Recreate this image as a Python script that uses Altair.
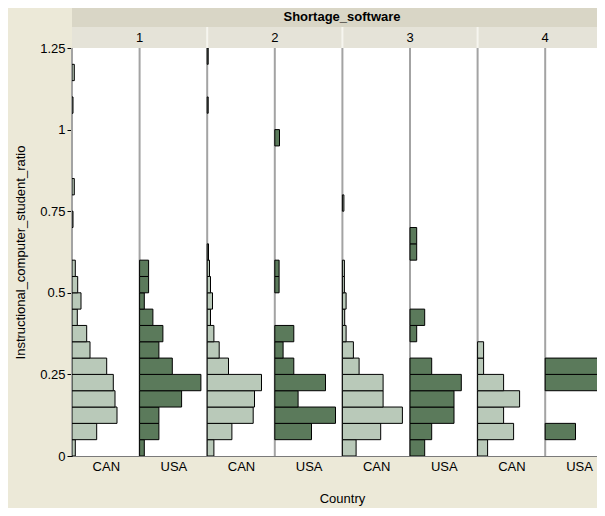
import altair as alt
import pandas as pd

# ---------------- data ----------------
SHORTAGE = [1, 2, 3, 4]
COUNTRIES = ["CAN", "USA"]
BIN_START = [0.00, 0.05, 0.10, 0.15, 0.20, 0.25, 0.30, 0.35, 0.40, 0.45,
             0.50, 0.55, 0.60, 0.65, 0.70, 0.75, 0.80, 0.85, 0.90, 0.95,
             1.00, 1.05, 1.10, 1.15, 1.20]
BIN_WIDTH = 0.05

# frequency (relative bar length) per ratio bin, lowest bin first
S1_CAN = [3.3, 24.7, 45, 43, 41.3, 34.7, 18, 14.7, 5.3, 9, 5.7, 3.3, 0, 0, 1, 0, 2.3, 0, 0, 0, 0, 1, 0, 2.3, 0]
S1_USA = [4.7, 19.3, 19.3, 42, 61.3, 32.7, 19.3, 23.3, 13.3, 4.7, 9, 9, 0, 0, 0, 0, 0, 0, 0, 0, 0, 0, 0, 0, 0]
S2_CAN = [6.7, 24.7, 46, 47.3, 54.3, 21.3, 12, 6.7, 3.3, 5.3, 3.3, 2.3, 1.3, 0, 0, 0, 0, 0, 0, 0, 0, 1, 0, 0, 1]
S2_USA = [0, 36.7, 60.7, 23.3, 50.7, 19, 8.3, 19, 0, 0, 4.3, 4.3, 0, 0, 0, 0, 0, 0, 0, 4.7, 0, 0, 0, 0, 0]
S3_CAN = [13.7, 38.3, 60, 40.7, 40.7, 16.7, 11, 3.7, 2.3, 3.7, 2, 2, 0, 0, 0, 1.5, 0, 0, 0, 0, 0, 0, 0, 0, 0]
S3_USA = [14.7, 21.7, 44, 44, 51.3, 21.7, 0, 6.7, 14.7, 0, 0, 0, 6.7, 6.7, 0, 0, 0, 0, 0, 0, 0, 0, 0, 0, 0]
S4_CAN = [10, 36, 26, 42, 26, 6, 6, 0, 0, 0, 0, 0, 0, 0, 0, 0, 0, 0, 0, 0, 0, 0, 0, 0, 0]
S4_USA = [0, 30.3, 0, 0, 62, 62, 0, 0, 0, 0, 0, 0, 0, 0, 0, 0, 0, 0, 0, 0, 0, 0, 0, 0, 0]

SERIES = {
    (1, "CAN"): S1_CAN, (1, "USA"): S1_USA,
    (2, "CAN"): S2_CAN, (2, "USA"): S2_USA,
    (3, "CAN"): S3_CAN, (3, "USA"): S3_USA,
    (4, "CAN"): S4_CAN, (4, "USA"): S4_USA,
}

rows = []
for (s, c), vals in SERIES.items():
    for b, v in zip(BIN_START, vals):
        if v > 0:
            rows.append({"Shortage_software": s, "Country": c,
                         "bin_start": b, "bin_end": round(b + BIN_WIDTH, 2),
                         "Frequency": v})
bars_df = pd.DataFrame(rows)
slots_df = pd.DataFrame([{"Shortage_software": s, "Country": c}
                         for s in SHORTAGE for c in COUNTRIES])
panels_df = pd.DataFrame({"Shortage_software": SHORTAGE})

# ---------------- layout ----------------
SUB = 67.6          # width of one country sub-column in x units
W, H = 525, 408     # plot area (right part is clipped like the reference)
XMAX = W
BG = "#ECE9D8"
FONT = "Liberation Sans"
FS = 13

xscale = alt.Scale(domain=[0, XMAX], nice=False, zero=False)
yscale = alt.Scale(domain=[0, 1.25], nice=False, zero=True)

slot_expr = "(datum.Shortage_software - 1) * 2 + (datum.Country == 'USA' ? 1 : 0)"

x_axis = alt.Axis(
    values=[SUB * (i + 0.5) for i in range(8)],
    labelExpr=f"floor(datum.value / {SUB}) % 2 == 0 ? 'CAN' : 'USA'",
    ticks=False, grid=False, domainColor="#7a7a7a", domainWidth=1,
    labelFont=FONT, labelFontSize=FS, labelColor="#000000", labelPadding=4,
    title="Country", titleFont=FONT, titleFontSize=FS, titleFontWeight="normal",
    titleColor="#000000", titlePadding=19, titleX=270,
)
y_axis = alt.Axis(
    values=[0, 0.25, 0.5, 0.75, 1, 1.25], format=".2~f",
    tickSize=5, tickColor="#000000", domainColor="#000000", grid=False,
    labelFont=FONT, labelFontSize=FS, labelColor="#000000", labelPadding=2,
    title="Instructional_computer_student_ratio", titleFont=FONT,
    titleFontSize=FS, titleFontWeight="normal", titleColor="#000000",
    titlePadding=12,
)

title_band = alt.Chart(panels_df.head(1)).mark_rect(color="#D9D6C6").encode(
    x=alt.value(0), x2=alt.value(W), y=alt.value(-40), y2=alt.value(-21))
label_band = alt.Chart(panels_df.head(1)).mark_rect(color="#E5E3D8").encode(
    x=alt.value(0), x2=alt.value(W), y=alt.value(-21), y2=alt.value(0))

separators = alt.Chart(panels_df).transform_filter(
    "datum.Shortage_software > 1"
).transform_calculate(
    xs=f"(datum.Shortage_software - 1) * 2 * {SUB}"
).mark_rule(color="#F6F5EF", strokeWidth=2).encode(
    x=alt.X("xs:Q", scale=xscale, axis=x_axis),
    y=alt.value(-21), y2=alt.value(0))

panel_labels = alt.Chart(panels_df).transform_calculate(
    xc=f"(datum.Shortage_software - 1) * 2 * {SUB} + {SUB}"
).mark_text(font=FONT, fontSize=FS, color="#000000", baseline="middle").encode(
    x=alt.X("xc:Q", scale=xscale, axis=x_axis),
    y=alt.value(-10),
    text="Shortage_software:N")

header_title = alt.Chart(panels_df.head(1)).mark_text(
    text="Shortage_software", font=FONT, fontSize=FS, fontWeight="bold",
    color="#000000", baseline="middle").encode(
    x=alt.value(270), y=alt.value(-31))

baselines = alt.Chart(slots_df).transform_calculate(
    slot=slot_expr
).transform_calculate(
    xb=f"datum.slot * {SUB}"
).mark_rule(color="#A3A3A3", strokeWidth=2).encode(
    x=alt.X("xb:Q", scale=xscale, axis=x_axis),
    y=alt.value(0), y2=alt.value(H))

bars = alt.Chart(bars_df).transform_calculate(
    slot=slot_expr
).transform_calculate(
    x0=f"datum.slot * {SUB}"
).transform_calculate(
    x1="datum.x0 + datum.Frequency"
).mark_bar(stroke="#000000", strokeWidth=1, clip=True).encode(
    x=alt.X("x0:Q", scale=xscale, axis=x_axis),
    x2="x1:Q",
    y=alt.Y("bin_start:Q", scale=yscale, axis=y_axis),
    y2="bin_end:Q",
    color=alt.Color("Country:N",
                    scale=alt.Scale(domain=COUNTRIES, range=["#B9C9B9", "#5B7A5B"]),
                    legend=None),
)

chart = alt.layer(
    title_band, label_band, separators, panel_labels, header_title, baselines, bars
).properties(
    width=W, height=H,
    autosize=alt.AutoSizeParams(type="none"),
    padding={"left": 64, "top": 40, "right": 0, "bottom": 52},
).configure(
    background=BG,
).configure_view(
    fill="white", stroke=None,
)

chart.save("out.html", embed_options={"renderer": "svg", "actions": False})
